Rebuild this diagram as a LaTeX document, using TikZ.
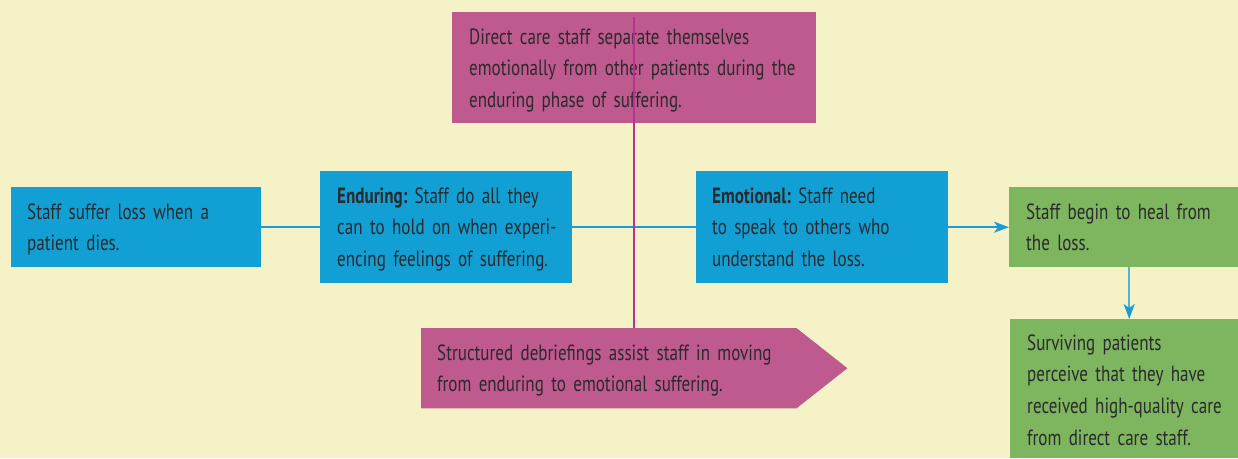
\documentclass[tikz,border=0pt]{standalone}
\usepackage{fontspec}
\setmainfont{PT Sans}[FakeStretch=0.775,WordSpace=0.7]
\usetikzlibrary{arrows.meta,backgrounds,calc}
\definecolor{cream}{HTML}{F5F2C8}
\definecolor{boxblue}{HTML}{129FD4}
\definecolor{boxgreen}{HTML}{7EB55F}
\definecolor{boxmag}{HTML}{BE5A8E}
\definecolor{linemag}{HTML}{B8338A}
\definecolor{lineblue}{HTML}{1A9AD6}
\definecolor{lineblue2}{HTML}{4FB3DA}
\definecolor{txt}{HTML}{2A2A2E}
\newcommand{\boxtopstr}[1][32]{\rule{0pt}{#1pt}\ignorespaces}
\newcommand{\boxbotstr}[1]{\rule[-#1pt]{0pt}{#1pt}}
\newcommand{\oneline}[1]{\mbox{#1}}
\begin{document}
\frenchspacing
\begin{tikzpicture}[x=1pt,y=-1pt,
  box/.style={anchor=north west, inner ysep=0pt, align=left, text=txt,
    font=\fontsize{22}{31.75}\selectfont\frenchspacing},
  bluebox/.style={box, fill=boxblue},
  greenbox/.style={box, fill=boxgreen},
  magbox/.style={box, fill=boxmag},
  flow/.style={draw=lineblue, line width=1.5pt, -{Stealth[length=15pt,width=11pt,inset=4pt]}},
  flowlight/.style={draw=lineblue2, line width=1.5pt, -{Stealth[length=15pt,width=11pt,inset=4pt,color=lineblue]}},
  magline/.style={draw=linemag, line width=1.2pt},
]
\begin{pgfonlayer}{background}
\fill[cream] (0,0) rectangle (1238,458);
\end{pgfonlayer}
\useasboundingbox (0,0) rectangle (1238,458);

\node[bluebox, inner xsep=16pt, text width=218pt, minimum width=250pt, minimum height=80pt] (A) at (11,187)
  {\boxtopstr\oneline{Staff suffer loss when a}\\\oneline{patient dies.}\boxbotstr{16.25}};
\node[greenbox, inner xsep=17pt, text width=195pt, minimum width=229pt, minimum height=80pt] (D) at (1009,187)
  {\boxtopstr\oneline{Staff begin to heal from}\\\oneline{the loss.}\boxbotstr{16.25}};
\node[greenbox, inner xsep=17pt, text width=194pt, minimum width=228pt, minimum height=139pt] (E) at (1010,319)
  {\boxtopstr[31]\oneline{Surviving patients}\\\oneline{perceive that they have}\\\oneline{received high-quality care}\\\oneline{from direct care staff.}\boxbotstr{12.75}};

\draw[flow] (A.east) -- (D.west);
\coordinate (va) at ($(D.south)+(5.5,0)$);
\draw[flowlight] (va) -- (va |- E.north);

\node[bluebox, inner xsep=17pt, text width=218pt, minimum width=252pt, minimum height=112pt] (B) at (320,171)
  {\boxtopstr\oneline{\textbf{Enduring:} Staff do all they}\\\oneline{can to hold on when experi-}\\\oneline{encing feelings of suffering.}\boxbotstr{16.5}};
\node[bluebox, inner xsep=16pt, text width=220pt, minimum width=252pt, minimum height=112pt] (C) at (696,171)
  {\boxtopstr\oneline{\textbf{Emotional:} Staff need}\\\oneline{to speak to others who}\\\oneline{understand the loss.}\boxbotstr{16.5}};

\node[magbox, inner xsep=17pt, text width=330pt, minimum width=364pt, minimum height=111pt] (top) at (452,12)
  {\boxtopstr\oneline{Direct care staff separate themselves}\\\oneline{emotionally from other patients during the}\\\oneline{enduring phase of suffering.}\boxbotstr{15.5}};

\node[box, inner xsep=16pt, text width=343pt, minimum width=375pt, minimum height=80pt] (bot) at (421,328)
  {\boxtopstr\oneline{Structured debriefings assist staff in moving}\\\oneline{from enduring to emotional suffering.}\boxbotstr{16.25}};
\begin{pgfonlayer}{background}
\fill[boxmag] (bot.north west) -- (bot.north east) -- ($(bot.east)+(51,0)$) -- (bot.south east) -- (bot.south west) -- cycle;
\end{pgfonlayer}

\coordinate (vm) at (634,17);
\draw[magline] (vm) -- (vm |- bot.north);
\end{tikzpicture}
\end{document}
